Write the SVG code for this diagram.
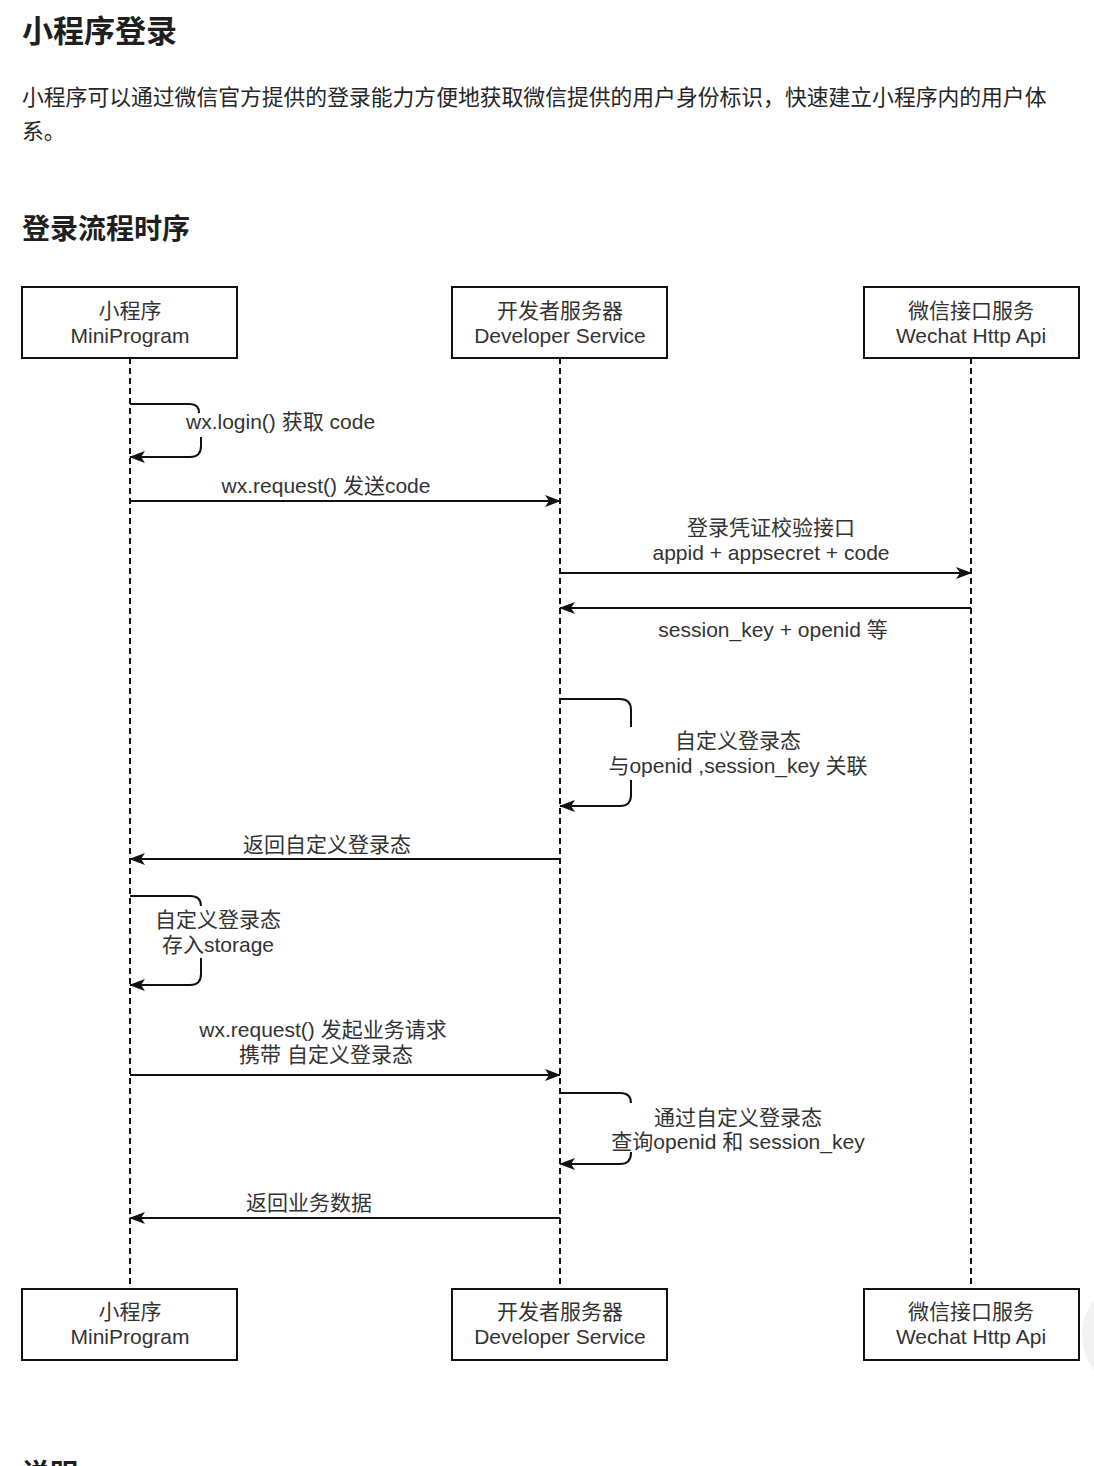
<svg xmlns="http://www.w3.org/2000/svg" width="1094" height="1466" viewBox="0 0 1094 1466">
<style>
.h{font-family:"Liberation Sans","Noto Sans CJK SC",sans-serif;font-weight:bold;fill:#1f1f1f}
.p{font-family:"Liberation Sans","Noto Sans CJK SC",sans-serif;font-size:21.8px;fill:#262626}
.t{font-family:"Liberation Sans","Noto Sans CJK SC",sans-serif;font-size:21px;fill:#333;text-anchor:middle}
.box{fill:#fff;stroke:#111;stroke-width:2}
.life{stroke:#111;stroke-width:2;stroke-dasharray:6 4;fill:none}
.msg{stroke:#111;stroke-width:2;fill:none}
</style>
<defs>
<marker id="arr" viewBox="0 0 16 12" refX="15" refY="6" markerWidth="16" markerHeight="12" markerUnits="userSpaceOnUse" orient="auto">
<path d="M0 0 L16 6 L0 12 L4 6 Z" fill="#111"/>
</marker>
</defs>
<rect width="1094" height="1466" fill="#fff"/>
<circle cx="1140" cy="1335" r="58" fill="#f2f2f2"/>
<circle cx="1140" cy="1505" r="58" fill="#f2f2f2"/>
<text class="h" x="22" y="42" font-size="31">小程序登录</text>
<text class="p" x="22" y="105">小程序可以通过微信官方提供的登录能力方便地获取微信提供的用户身份标识，快速建立小程序内的用户体</text>
<text class="p" x="22" y="139">系。</text>
<text class="h" x="22" y="239" font-size="28">登录流程时序</text>
<text class="h" x="22" y="1484" font-size="28">说明</text>

<g id="lifelines">
<line class="life" x1="130" y1="358" x2="130" y2="1289"/>
<line class="life" x1="560" y1="358" x2="560" y2="1289"/>
<line class="life" x1="971" y1="358" x2="971" y2="1289"/>
</g>

<g id="mini-top"><rect class="box" x="22" y="287" width="215" height="71"/><text class="t" x="130" y="318">小程序</text><text class="t" x="130" y="343">MiniProgram</text></g>
<g id="dev-top"><rect class="box" x="452" y="287" width="215" height="71"/><text class="t" x="560" y="318">开发者服务器</text><text class="t" x="560" y="343">Developer Service</text></g>
<g id="wx-top"><rect class="box" x="864" y="287" width="215" height="71"/><text class="t" x="971" y="318">微信接口服务</text><text class="t" x="971" y="343">Wechat Http Api</text></g>
<g id="mini-bottom"><rect class="box" x="22" y="1289" width="215" height="71"/><text class="t" x="130" y="1319">小程序</text><text class="t" x="130" y="1344">MiniProgram</text></g>
<g id="dev-bottom"><rect class="box" x="452" y="1289" width="215" height="71"/><text class="t" x="560" y="1319">开发者服务器</text><text class="t" x="560" y="1344">Developer Service</text></g>
<g id="wx-bottom"><rect class="box" x="864" y="1289" width="215" height="71"/><text class="t" x="971" y="1319">微信接口服务</text><text class="t" x="971" y="1344">Wechat Http Api</text></g>

<g id="connectors">
<path class="msg" d="M130 404 H190 Q199 404 199 413"/>
<path class="msg" d="M201 437 V446 Q201 457 190 457 H130" marker-end="url(#arr)"/>
<path class="msg" d="M130 501 H560" marker-end="url(#arr)"/>
<path class="msg" d="M560 573 H971" marker-end="url(#arr)"/>
<path class="msg" d="M971 608 H560" marker-end="url(#arr)"/>
<path class="msg" d="M560 699 H620 Q631 699 631 710 V727"/>
<path class="msg" d="M631 780 V795 Q631 806 620 806 H560" marker-end="url(#arr)"/>
<path class="msg" d="M560 859 H130" marker-end="url(#arr)"/>
<path class="msg" d="M130 896 H190 Q201 896 201 906"/>
<path class="msg" d="M201 958 V974 Q201 985 190 985 H130" marker-end="url(#arr)"/>
<path class="msg" d="M130 1075 H560" marker-end="url(#arr)"/>
<path class="msg" d="M560 1093 H620 Q631 1093 631 1103"/>
<path class="msg" d="M631 1152 V1153 Q631 1164 620 1164 H560" marker-end="url(#arr)"/>
<path class="msg" d="M560 1218 H130" marker-end="url(#arr)"/>
</g>

<g id="labels">
<text class="t" x="186" y="429" style="text-anchor:start">wx.login() 获取 code</text>
<text class="t" x="326" y="493">wx.request() 发送code</text>
<text class="t" x="771" y="535">登录凭证校验接口</text>
<text class="t" x="771" y="560">appid + appsecret + code</text>
<text class="t" x="773" y="637">session_key + openid 等</text>
<text class="t" x="738" y="748">自定义登录态</text>
<text class="t" x="738" y="773">与openid ,session_key 关联</text>
<text class="t" x="327" y="852">返回自定义登录态</text>
<text class="t" x="218" y="927">自定义登录态</text>
<text class="t" x="218" y="952">存入storage</text>
<text class="t" x="323" y="1037">wx.request() 发起业务请求</text>
<text class="t" x="326" y="1062">携带 自定义登录态</text>
<text class="t" x="738" y="1125">通过自定义登录态</text>
<text class="t" x="738" y="1149">查询openid 和 session_key</text>
<text class="t" x="309" y="1210">返回业务数据</text>
</g>
</svg>
